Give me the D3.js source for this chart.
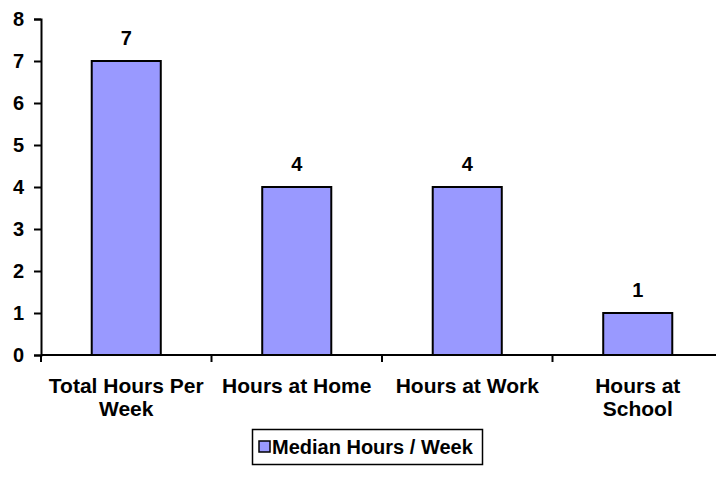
<!DOCTYPE html>
<html>
<head>
<meta charset="utf-8">
<script src="https://cdn.jsdelivr.net/npm/d3@7/dist/d3.min.js"></script>
<style>
  body { margin: 0; background: #fff; }
  text { font-family: "Liberation Sans", Arial, sans-serif; font-weight: bold; fill: #000; }
</style>
</head>
<body>
<script>
// data
var categories = [["Total Hours Per", "Week"], ["Hours at Home"], ["Hours at Work"], ["Hours at", "School"]];
var values = [7, 4, 4, 1];
var yTicks = [0, 1, 2, 3, 4, 5, 6, 7, 8];
var seriesName = "Median Hours / Week";

var w = 716, h = 493;
var svg = d3.select("body").append("svg").attr("width", w).attr("height", h);

var x = d3.scaleBand().domain(d3.range(categories.length)).range([41, 723]).paddingInner(0).paddingOuter(0);
var y = d3.scaleLinear().domain([0, 8]).range([355, 19]);

// bars
var barW = x.bandwidth() * 0.405;
svg.selectAll("rect.bar")
  .data(values)
  .enter()
  .append("rect")
  .attr("class", "bar")
  .attr("x", function(d, i) { return x(i) + x.bandwidth() / 2 - barW / 2; })
  .attr("y", function(d) { return y(d); })
  .attr("width", barW)
  .attr("height", function(d) { return y(0) - y(d); })
  .attr("fill", "#9999ff")
  .attr("stroke", "#000")
  .attr("stroke-width", 2);

// value labels
svg.selectAll("text.val")
  .data(values)
  .enter()
  .append("text")
  .attr("class", "val")
  .attr("x", function(d, i) { return x(i) + x.bandwidth() / 2; })
  .attr("y", function(d) { return y(d) - 16; })
  .attr("text-anchor", "middle")
  .style("font-size", "20px")
  .text(function(d) { return d; });

// y axis
var yAxis = svg.append("g")
  .attr("transform", "translate(41,0)")
  .call(d3.axisLeft(y).tickValues(yTicks).tickSize(7).tickPadding(10).tickFormat(d3.format("d")));
yAxis.select(".domain").attr("stroke", "#000").attr("stroke-width", 2);
yAxis.selectAll(".tick line").attr("stroke", "#000").attr("stroke-width", 2);
yAxis.selectAll(".tick text").style("font-size", "20px").style("font-family", "Liberation Sans, Arial, sans-serif").style("font-weight", "bold");

// x axis line and ticks between categories
var xAxis = svg.append("g")
  .attr("transform", "translate(0," + y(0) + ")");
xAxis.append("line")
  .attr("x1", 41).attr("x2", w)
  .attr("stroke", "#000").attr("stroke-width", 2);
xAxis.selectAll("line.tk")
  .data(d3.range(categories.length))
  .enter()
  .append("line")
  .attr("class", "tk")
  .attr("x1", function(d) { return x(d); })
  .attr("x2", function(d) { return x(d); })
  .attr("y1", 0).attr("y2", 7)
  .attr("stroke", "#000").attr("stroke-width", 2);

// category labels
svg.selectAll("text.cat")
  .data(categories)
  .enter()
  .append("text")
  .attr("class", "cat")
  .attr("text-anchor", "middle")
  .style("font-size", "21px")
  .each(function(d, i) {
    var t = d3.select(this);
    d.forEach(function(line, j) {
      t.append("tspan")
        .attr("x", x(i) + x.bandwidth() / 2)
        .attr("y", 393 + j * 23)
        .text(line);
    });
  });

// legend
var lg = svg.append("g");
lg.append("rect")
  .attr("x", 252.5).attr("y", 429.5).attr("width", 230).attr("height", 35)
  .attr("fill", "#fff").attr("stroke", "#000").attr("stroke-width", 1.5);
lg.append("rect")
  .attr("x", 259).attr("y", 441).attr("width", 11).attr("height", 11)
  .attr("fill", "#9999ff").attr("stroke", "#000").attr("stroke-width", 1.5);
lg.append("text")
  .attr("x", 272).attr("y", 454)
  .style("font-size", "20px")
  .text(seriesName);
</script>
</body>
</html>
